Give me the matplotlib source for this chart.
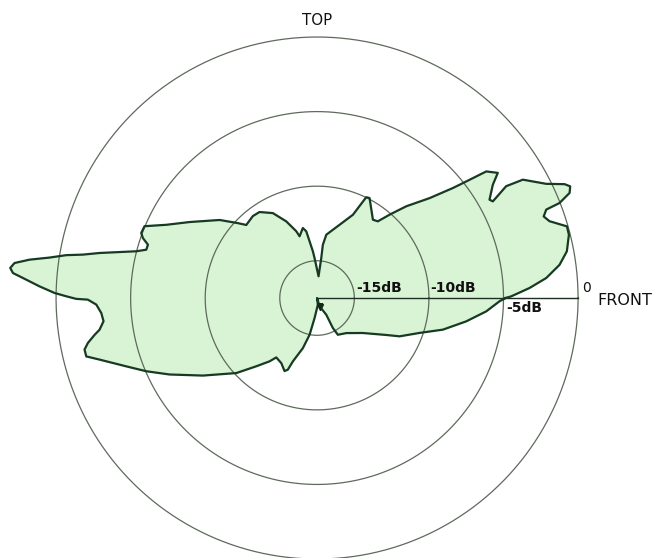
import numpy as np
import matplotlib
matplotlib.use("Agg")
import matplotlib.pyplot as plt

# polar response outline, traced counter-clockwise from the front (0 deg)
angle_deg = [0.0, 0.5, 2.7, 5.0, 7.8, 10.6, 14.1, 16.0, 18.3, 19.8,
             21.1, 21.4, 22.6, 23.8, 24.7, 26.5, 29.9, 30.6, 28.8, 29.7,
             32.8, 34.7, 36.8, 38.0, 39.0, 41.6, 45.8, 49.0, 51.6, 54.5,
             62.3, 64.0, 66.7, 72.9, 81.7, 83.8, 84.0, 86.1, 93.6, 95.1,
             99.2, 101.5, 105.8, 107.3, 111.9, 117.5, 123.8, 128.1, 134.1, 136.6,
             141.3, 149.2, 154.1, 157.4, 159.7, 161.0, 162.5, 164.2, 165.5, 166.9,
             168.3, 169.5, 170.3, 171.4, 172.4, 173.4, 174.4, 175.3, 176.1, 177.6,
             178.9, 179.6, 180.2, 180.4, 181.7, 184.0, 186.2, 188.3, 189.4, 191.1,
             192.5, 194.2, 195.8, 199.7, 203.2, 207.4, 214.2, 222.9, 228.3, 233.1,
             235.5, 241.2, 246.0, 247.8, 249.1, 254.2, 258.5, 262.9, 276.8, 280.0,
             286.8, 298.9, 297.8, 299.5, 309.8, 322.6, 331.9, 335.1, 341.2, 345.9,
             351.1, 355.5, 359.0, 360.0]
level_db = [-4.86, -4.48, -3.24, -2.07, -1.09, -0.46, -0.09, -0.07, -1.09, -1.35,
            -1.03, -0.04, 0.84, 1.05, 0.77, -0.34, -1.58, -2.77, -4.05, -4.19,
            -3.48, -2.76, -3.33, -4.80, -5.78, -7.41, -8.92, -10.10, -10.94, -11.05,
            -9.93, -9.98, -11.42, -12.36, -13.21, -13.91, -14.80, -16.04, -14.81, -14.36,
            -12.97, -12.71, -13.20, -12.81, -11.96, -11.08, -10.56, -10.52, -10.68, -10.19,
            -9.13, -7.55, -6.26, -4.97, -4.93, -5.15, -5.61, -5.60, -4.98, -3.90,
            -2.61, -1.53, -0.44, 0.64, 1.95, 2.92, 3.17, 2.96, 2.27, 1.12,
            0.10, -0.68, -1.35, -2.13, -2.69, -3.00, -3.10, -2.76, -2.38, -1.84,
            -1.53, -1.54, -2.34, -3.91, -5.04, -6.36, -8.25, -10.11, -11.37, -12.19,
            -12.67, -12.52, -12.14, -12.31, -12.95, -14.01, -14.99, -16.15, -17.05, -17.5,
            -16.92, -16.22, -15.23, -14.67, -14.44, -13.64, -12.24, -11.40, -10.24, -8.80,
            -7.38, -6.12, -5.26, -4.86]

rings = [-15, -10, -5, 0]
ring_labels = ["-15dB", "-10dB", "-5dB", "0"]
r_min, r_max = -17.5, 3.5

fig = plt.figure(figsize=(6.53, 5.58), dpi=100)
ax = fig.add_axes([0.0059, -0.0954, 0.9593, 1.1226], projection="polar")
ax.set_facecolor("none")
ax.spines["polar"].set_visible(False)
ax.set_rlim(r_min, r_max)
ax.set_xticks([])
ax.set_yticks([])

th = np.deg2rad(angle_deg)
ax.fill(th, level_db, color="#d9f3d5", zorder=1)

# dB circles
circ = np.linspace(0, 2 * np.pi, 400)
for r in rings:
    ax.plot(circ, np.full_like(circ, r), color="#5e6a5c", lw=0.9, zorder=2)

ax.plot(th, level_db, color="#173a22", lw=1.6, zorder=3)
# small dark blob just below the centre
ax.plot(np.deg2rad(287), -16.9, marker="v", ms=4, color="#102a18", zorder=4)

# front axis line
ax.plot([0, 0], [r_min, 0], color="#1e2e22", lw=1.0, zorder=2)

txt = dict(color="#111111", fontsize=10, fontweight="bold")
ax.annotate(ring_labels[0], xy=(0, -15), xytext=(1.5, 2), textcoords="offset points",
            ha="left", va="bottom", **txt)
ax.annotate(ring_labels[1], xy=(0, -10), xytext=(1.0, 2), textcoords="offset points",
            ha="left", va="bottom", **txt)
ax.annotate(ring_labels[2], xy=(0, -5), xytext=(2, -2), textcoords="offset points",
            ha="left", va="top", **txt)
ax.annotate(ring_labels[3], xy=(0, 0), xytext=(3, 2.5), textcoords="offset points",
            ha="left", va="bottom", color="#111111", fontsize=10)
ax.annotate("FRONT", xy=(0, 0), xytext=(14, -1.5), textcoords="offset points",
            ha="left", va="center", color="#111111", fontsize=11.5)
ax.annotate("TOP", xy=(np.pi / 2, 0), xytext=(0, 8.6), textcoords="offset points",
            ha="center", va="baseline", color="#111111", fontsize=10.8)

fig.savefig("out.png", dpi=100)
